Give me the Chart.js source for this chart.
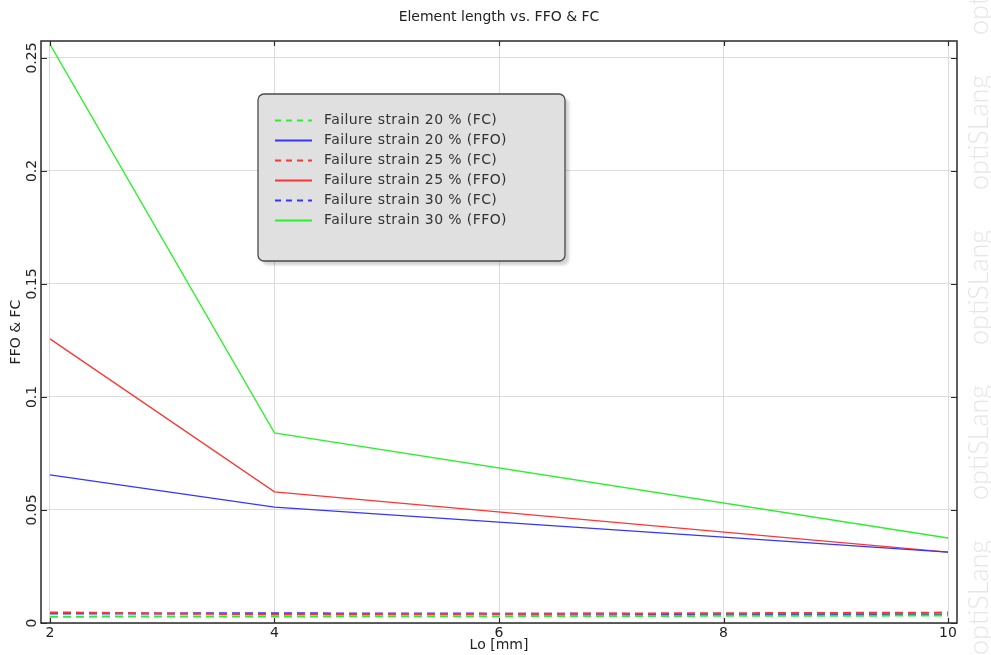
<!DOCTYPE html>
<html>
<head>
<meta charset="utf-8">
<script src="https://cdn.jsdelivr.net/npm/chart.js@4.4.0/dist/chart.umd.min.js"></script>
<style>
    html, body { margin: 0; padding: 0; background: #fff; }
    #wrap { width: 991px; height: 655px; }
</style>
</head>
<body>
<div id="wrap"><canvas id="c" width="991" height="655"></canvas></div>
<script>
// element length Lo [mm]
var lengths = [2, 4, 10];

// FC (dashed) and FFO (solid) per failure strain
var fc20 = [0.0028, 0.0029, 0.0033];
var ffo20 = [0.0655, 0.0513, 0.0314];
var fc25 = [0.0047, 0.0038, 0.0046];
var ffo25 = [0.1257, 0.0580, 0.0314];
var fc30 = [0.0042, 0.0043, 0.0038];
var ffo30 = [0.2560, 0.0841, 0.0376];

var seriesLabels = [
    'Failure strain 20 % (FC)', 'Failure strain 20 % (FFO)',
    'Failure strain 25 % (FC)', 'Failure strain 25 % (FFO)',
    'Failure strain 30 % (FC)', 'Failure strain 30 % (FFO)'
];
var yTickLabels = ['0', '0.05', '0.1', '0.15', '0.2', '0.25'];
var xTickLabels = ['2', '4', '6', '8', '10'];

var GREEN = '#2cf02c', RED = '#ff3535', BLUE = '#3535ff';
var FONT = '"DejaVu Sans", Verdana, sans-serif';

function pts(ys) {
    return ys.map(function (y, i) { return {x: lengths[i], y: y}; });
}

function series(label, ys, color, dashed) {
    return {
        label: label,
        data: pts(ys),
        borderColor: color,
        backgroundColor: color,
        borderWidth: dashed ? 2 : 1.3,
        borderDash: dashed ? [8, 5] : [],
        pointRadius: 0,
        tension: 0,
        fill: false
    };
}

var decor = {
    id: 'decor',
    beforeDraw: function (chart) {
        var ctx = chart.ctx;
        ctx.save();
        // watermark down the right edge
        ctx.fillStyle = '#e6e6e6';
        ctx.font = '300 27px Lato, "Open Sans", sans-serif';
        ctx.textAlign = 'left';
        ctx.textBaseline = 'middle';
        [655, 500, 345, 190, 35].forEach(function (b) {
            ctx.save();
            ctx.translate(979, b);
            ctx.rotate(-Math.PI / 2);
            ctx.fillText('optiSLang', 0, 0);
            ctx.restore();
        });
        // title
        ctx.fillStyle = '#222';
        ctx.font = '14px ' + FONT;
        ctx.textAlign = 'center';
        ctx.fillText('Element length vs. FFO & FC', 499, 17);
        ctx.restore();
    },
    afterDatasetsDraw: function (chart) {
        var ctx = chart.ctx, a = chart.chartArea;
        var xs = chart.scales.x, ys = chart.scales.y;
        ctx.save();
        ctx.strokeStyle = '#2a2a2a';
        ctx.lineWidth = 1.5;
        ctx.strokeRect(a.left, a.top, a.right - a.left, a.bottom - a.top);
        ctx.lineWidth = 1.2;
        ctx.beginPath();
        xs.ticks.forEach(function (t) {
            var px = Math.round(xs.getPixelForValue(t.value)) + 0.5;
            ctx.moveTo(px, a.bottom); ctx.lineTo(px, a.bottom - 5);
            ctx.moveTo(px, a.top); ctx.lineTo(px, a.top + 5);
        });
        ys.ticks.forEach(function (t) {
            var py = Math.round(ys.getPixelForValue(t.value)) + 0.5;
            ctx.moveTo(a.left, py); ctx.lineTo(a.left + 6, py);
            ctx.moveTo(a.right, py); ctx.lineTo(a.right - 6, py);
        });
        ctx.stroke();
        ctx.restore();
    },
    afterDraw: function (chart) {
        var ctx = chart.ctx;
        var bx = 258, by = 94, bw = 307, bh = 167;
        ctx.save();
        ctx.shadowColor = 'rgba(0,0,0,0.18)';
        ctx.shadowOffsetX = 4;
        ctx.shadowOffsetY = 4;
        ctx.shadowBlur = 3;
        ctx.fillStyle = '#e0e0e0';
        ctx.beginPath();
        ctx.roundRect(bx, by, bw, bh, 6);
        ctx.fill();
        ctx.shadowColor = 'transparent';
        ctx.strokeStyle = '#4a4a4a';
        ctx.lineWidth = 1.3;
        ctx.stroke();
        ctx.font = '14px ' + FONT;
        ctx.letterSpacing = '0.4px';
        ctx.textAlign = 'left';
        ctx.textBaseline = 'middle';
        chart.data.datasets.forEach(function (ds, i) {
            var y = 120.5 + i * 20;
            ctx.strokeStyle = ds.borderColor;
            ctx.lineWidth = 2;
            ctx.setLineDash(ds.borderDash.length ? [6, 5] : []);
            ctx.beginPath();
            ctx.moveTo(275, y); ctx.lineTo(312, y);
            ctx.stroke();
            ctx.setLineDash([]);
            ctx.fillStyle = '#333';
            ctx.fillText(ds.label, 324, y);
        });
        ctx.restore();
    }
};

new Chart(document.getElementById('c'), {
    type: 'line',
    data: {
        datasets: [
            series(seriesLabels[0], fc20, GREEN, true),
            series(seriesLabels[1], ffo20, BLUE, false),
            series(seriesLabels[2], fc25, RED, true),
            series(seriesLabels[3], ffo25, RED, false),
            series(seriesLabels[4], fc30, BLUE, true),
            series(seriesLabels[5], ffo30, GREEN, false)
        ]
    },
    options: {
        responsive: false,
        animation: false,
        devicePixelRatio: 1,
        layout: {padding: {top: 41, right: 34, left: 0, bottom: 0}},
        plugins: {legend: {display: false}, title: {display: false}, tooltip: {enabled: false}},
        scales: {
            x: {
                type: 'linear',
                min: 1.92,
                max: 10.08,
                afterFit: function (s) { s.height = 32; },
                ticks: {
                    stepSize: 2,
                    includeBounds: false,
                    maxRotation: 0,
                    padding: 2,
                    color: '#222',
                    font: {family: FONT, size: 14},
                    callback: function (v, i) { return xTickLabels[i]; }
                },
                grid: {color: '#dcdcdc', drawTicks: false},
                border: {display: false},
                title: {display: true, text: 'Lo [mm]', color: '#222', font: {family: FONT, size: 14}, padding: {top: 0, bottom: 1}}
            },
            y: {
                type: 'linear',
                min: 0,
                max: 0.2575,
                afterFit: function (s) { s.width = 41; },
                ticks: {
                    stepSize: 0.05,
                    includeBounds: false,
                    minRotation: 90,
                    maxRotation: 90,
                    crossAlign: 'center',
                    padding: -7,
                    color: '#222',
                    font: {family: FONT, size: 14},
                    callback: function (v, i) { return yTickLabels[i]; }
                },
                grid: {color: '#dcdcdc', drawTicks: false},
                border: {display: false},
                title: {display: true, text: 'FFO & FC', color: '#222', font: {family: FONT, size: 14}, padding: {top: 8, bottom: 0}}
            }
        }
    },
    plugins: [decor]
});
</script>
</body>
</html>
